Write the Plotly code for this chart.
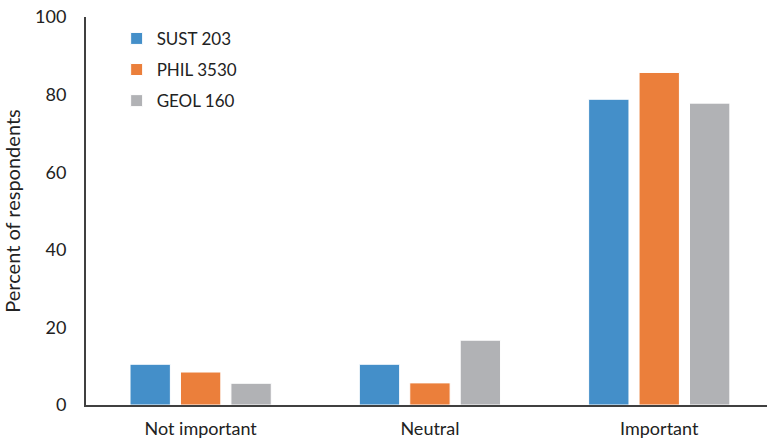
import plotly.graph_objects as go

categories = ["Not important", "Neutral", "Important"]
series_names = ["SUST 203", "PHIL 3530", "GEOL 160"]
sust_203 = [10.5, 10.5, 78.8]
phil_3530 = [8.5, 5.7, 85.7]
geol_160 = [5.6, 16.7, 77.8]
y_ticks = [0, 20, 40, 60, 80, 100]

colors = ["#448FC9", "#EB7F3B", "#B1B2B5"]

fig = go.Figure()
for name, vals, col in zip(series_names, [sust_203, phil_3530, geol_160], colors):
    fig.add_trace(go.Bar(
        x=categories, y=vals, name=name, legendgroup=name,
        marker=dict(color=col, line=dict(color="white", width=1)),
    ))

font_family = "Lato, 'Open Sans', sans-serif"
fig.update_layout(
    width=767, height=439,
    margin=dict(l=86, r=0, t=17, b=34),
    paper_bgcolor="white", plot_bgcolor="white",
    barmode="group", bargap=0.34, bargroupgap=0.2,
    font=dict(family=font_family, size=18, color="#222222"),
    showlegend=True,
    legend=dict(
        x=0.045, y=0.99, xanchor="left", yanchor="top",
        traceorder="grouped", tracegroupgap=6,
        font=dict(size=17, color="#222222"),
        bgcolor="rgba(0,0,0,0)", itemwidth=30,
    ),
    xaxis=dict(
        type="category", range=[-0.5, 2.47],
        showline=True, linecolor="#404040", linewidth=2,
        ticks="", showgrid=False, zeroline=False,
        ticklabelstandoff=6,
        tickfont=dict(size=18),
    ),
    yaxis=dict(
        range=[0, 100], tickvals=y_ticks,
        showline=True, linecolor="#404040", linewidth=2,
        ticks="", showgrid=False, zeroline=False,
        ticklabelstandoff=14,
        title=dict(text="Percent of respondents", font=dict(size=20), standoff=10),
        tickfont=dict(size=18),
    ),
)

fig.write_html("out.html")
